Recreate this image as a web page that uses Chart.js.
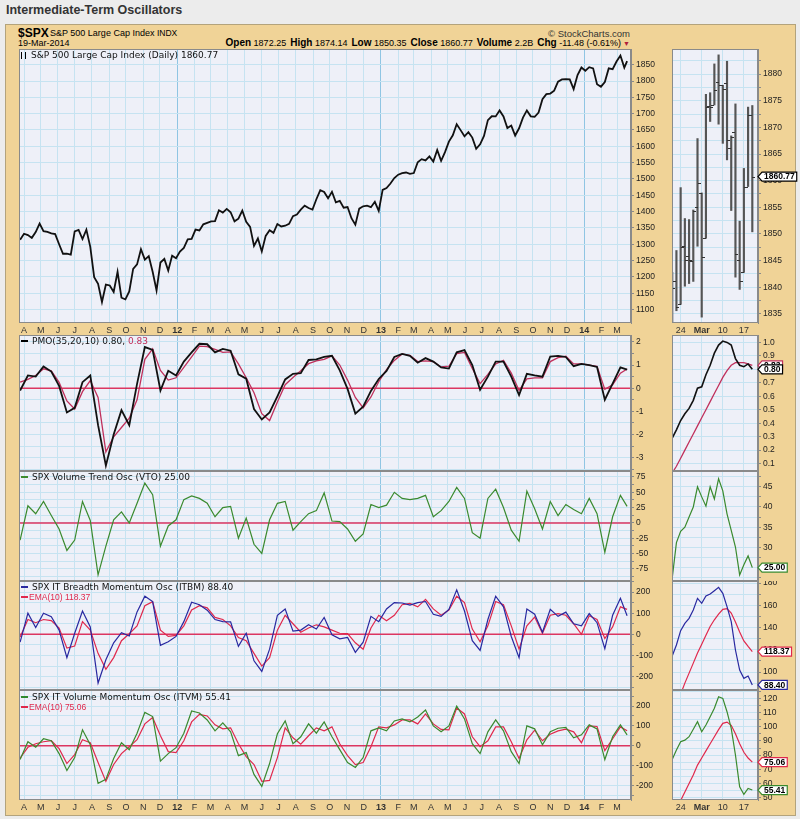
<!DOCTYPE html>
<html>
<head>
<meta charset="utf-8">
<script src="https://cdn.jsdelivr.net/npm/chart.js@4.4.1/dist/chart.umd.min.js"></script>
<style>
  body { margin: 0; width: 800px; height: 819px; background: #ececec; position: relative; overflow: hidden; font-family: "Liberation Sans", Arial, sans-serif; }
  #title { position: absolute; left: 6px; top: 3px; font: bold 12.5px "Liberation Sans", Arial; color: #333; }
  #frame { position: absolute; left: 5px; top: 24px; width: 789px; height: 790px; background: #f0d397; border: 1px solid #b3a37c; }
  .abs { position: absolute; white-space: nowrap; }
  canvas { position: absolute; }
  .lg { font: 9px "DejaVu Sans"; line-height: 11px; color: #111; }
  .lg2 { font: 8.5px "Liberation Sans"; line-height: 10px; }
  .dash { display: inline-block; width: 7px; height: 2px; vertical-align: middle; margin-right: 4px; position: relative; top: -1px; }
  .ico { display: inline-block; width: 3px; height: 7px; border-left: 1px solid #000; border-right: 1px solid #000; margin-right: 5px; vertical-align: middle; }
  .hb { font-weight: bold; font-size: 10px; }
  .hv { font-size: 9px; margin-right: 4px; }
</style>
</head>
<body>
<div id="title">Intermediate-Term Oscillators</div>
<div id="frame"></div>
<div class="abs" style="left:18px;top:26px;font:bold 12px 'Liberation Sans'">$SPX</div>
<div class="abs" style="left:50px;top:28px;font:9px 'Liberation Sans'">S&amp;P 500 Large Cap Index <span style="font-size:8.5px">INDX</span></div>
<div class="abs" style="left:18px;top:38px;font:9px 'Liberation Sans'">19-Mar-2014</div>
<div class="abs" style="right:170px;top:28px;font:9.5px 'Liberation Sans';color:#333">&#169; StockCharts.com</div>
<div class="abs" style="right:170px;top:37px;font:9px 'Liberation Sans'">
  <span class="hb">Open</span> <span class="hv">1872.25</span><span class="hb">High</span> <span class="hv">1874.14</span><span class="hb">Low</span> <span class="hv">1850.35</span><span class="hb">Close</span> <span class="hv">1860.77</span><span class="hb">Volume</span> <span class="hv">2.2B</span><span class="hb">Chg</span> <span class="hv" style="margin-right:2px">-11.48 (-0.61%)</span><span style="color:#b0203a;font-size:7px">&#9660;</span>
</div>
<div id="charts"></div>
<div class="abs lg" style="left:21px;top:50px"><span class="ico"></span>S&amp;P 500 Large Cap Index (Daily) 1860.77</div>
<div class="abs lg" style="left:21px;top:336px"><span class="dash" style="background:#000"></span>PMO(35,20,10) 0.80, <span style="color:#c0305c">0.83</span></div>
<div class="abs lg" style="left:21px;top:472px"><span class="dash" style="background:#3d8b2f"></span>SPX Volume Trend Osc (VTO) 25.00</div>
<div class="abs lg" style="left:21px;top:582px"><span class="dash" style="background:#2828a0"></span>SPX IT Breadth Momentum Osc (ITBM) 88.40</div>
<div class="abs lg2" style="left:21px;top:592px;color:#e0284c"><span class="dash" style="background:#e0284c;margin-right:1px"></span>EMA(10) 118.37</div>
<div class="abs lg" style="left:21px;top:692px"><span class="dash" style="background:#2f8a2f"></span>SPX IT Volume Momentum Osc (ITVM) 55.41</div>
<div class="abs lg2" style="left:21px;top:702px;color:#e0284c"><span class="dash" style="background:#e0284c;margin-right:1px"></span>EMA(10) 75.06</div>
<script>
// months on the main time axis (Apr 2011 .. Mar 2014)
const monthLabels = ['A','M','J','J','A','S','O','N','D','12','F','M','A','M','J','J','A','S','O','N','D','13','F','M','A','M','J','J','A','S','O','N','D','14','F','M'];

// weekly closes, S&P 500, from 25-Mar-2011 to 19-Mar-2014
const priceWeekly = [1313.8,1332.4,1328.2,1319.7,1337.4,1363.6,1340.2,1337.8,1333.3,1331.1,1300.2,1271.0,1271.5,1268.5,1339.7,1343.8,1316.1,1345.0,1292.3,1199.4,1178.8,1123.5,1176.8,1174.0,1154.2,1216.0,1136.4,1131.4,1155.5,1224.6,1238.3,1285.1,1253.2,1263.9,1215.7,1158.7,1244.3,1255.2,1219.7,1265.3,1257.6,
  1277.8,1289.1,1315.4,1316.3,1344.9,1342.6,1361.2,1365.7,1370.0,1370.9,1404.2,1397.1,1408.5,1398.1,1370.3,1378.5,1403.4,1369.1,1353.4,1295.2,1317.8,1278.0,1325.7,1342.8,1335.0,1362.2,1354.7,1356.8,1362.7,1386.0,1391.0,1405.9,1418.2,1411.1,1406.6,1437.9,1465.8,1460.2,1440.7,1460.9,1428.6,1433.2,1411.9,1414.2,1379.9,1359.9,1409.2,1416.2,1418.1,1413.6,1430.2,1402.4,
  1466.5,1472.1,1486.0,1503.0,1513.2,1517.9,1519.8,1515.6,1518.2,1551.2,1560.7,1556.9,1569.2,1553.3,1588.9,1555.3,1582.2,1614.4,1633.7,1667.5,1649.6,1630.7,1643.4,1626.7,1592.4,1606.3,1631.9,1680.2,1692.1,1691.7,1709.7,1691.4,1655.8,1663.5,1633.0,1655.2,1688.0,1709.9,1691.8,1690.5,1703.2,1744.5,1759.8,1761.6,1770.6,1798.2,1804.8,1805.8,1805.1,1775.3,1818.3,1841.4,
  1831.4,1842.4,1838.7,1790.3,1782.6,1797.0,1838.6,1836.3,1859.5,1878.0,1841.1,1860.8];

// oscillators, every two weeks from 25-Mar-2011
const pmo = [-0.10,0.55,0.50,0.94,0.72,0.10,-1.05,-0.85,0.26,0.55,-1.60,-3.35,-2.00,-0.95,-1.60,0.19,1.78,1.66,-0.10,0.75,0.55,1.15,1.55,1.92,1.90,1.55,1.70,1.62,0.60,0.41,-0.90,-1.35,-1.05,-0.35,0.38,0.62,0.65,1.22,1.25,1.35,1.40,0.77,-0.03,-1.10,-0.80,-0.12,0.40,0.75,1.35,1.48,1.40,1.10,1.30,1.15,0.90,0.85,1.55,1.65,1.00,-0.07,0.50,1.15,1.15,0.50,-0.30,0.62,0.55,0.50,1.37,1.40,1.35,0.95,1.05,1.00,0.92,-0.50,0.20,0.90,0.80];
const pmoSignal = [0.26,0.38,0.55,0.84,0.75,0.25,-0.55,-0.90,-0.15,0.33,-0.40,-2.75,-2.10,-1.70,-1.30,-0.50,1.25,1.70,0.77,0.35,0.45,0.90,1.35,1.82,1.80,1.68,1.55,1.57,1.05,0.45,-0.20,-1.10,-1.40,-0.60,0.15,0.46,0.75,1.06,1.18,1.25,1.40,1.00,0.35,-0.40,-0.85,-0.38,0.28,0.80,1.20,1.48,1.42,1.15,1.18,1.15,0.92,0.95,1.50,1.55,0.85,0.20,0.60,1.05,1.20,0.65,-0.10,0.40,0.45,0.45,1.15,1.32,1.38,1.05,1.05,1.00,0.95,-0.05,0.15,0.65,0.83];
const vto = [-28,28,15,35,12,-10,-45,-28,35,4,-85,-38,5,18,0,32,65,46,-38,-5,5,38,44,40,32,10,25,27,-25,8,-35,-50,5,32,35,-12,2,15,20,49,3,2,-10,-30,-18,30,25,29,50,40,38,40,45,10,20,35,58,40,-16,-25,40,55,25,-12,-30,52,23,-10,35,12,30,22,15,40,15,-48,10,45,27];
const itbm = [-37,100,32,100,83,20,-110,5,110,35,-230,-120,-40,8,-8,106,180,155,-52,-35,-10,60,152,140,114,70,60,59,-57,5,-125,-175,-70,90,120,15,20,45,25,80,-2,-21,-15,-85,-37,85,60,120,150,148,138,150,155,95,85,118,210,110,-30,-76,70,180,130,-10,-110,120,95,10,118,85,105,50,40,98,55,-68,90,170,88];
const itbmEma = [-13,70,55,70,65,30,-65,-55,60,20,-90,-165,-110,-30,3,40,135,154,20,-10,-5,40,115,135,125,80,70,40,-15,-30,-90,-150,-110,20,90,50,10,30,45,35,20,5,3,-40,-70,30,90,64,90,140,146,130,165,120,90,115,180,150,25,-35,40,155,140,40,-70,40,82,5,90,98,90,50,0,88,70,-20,35,130,118];
const itvm = [-70,20,-8,35,25,-40,-125,-60,80,5,-190,-170,-65,15,-20,63,168,147,-78,-40,-10,63,175,165,130,75,115,70,-50,-35,-145,-205,-90,60,125,10,45,110,63,120,45,-20,-85,-110,-60,75,90,75,125,135,120,145,180,100,70,100,200,135,10,-40,70,130,75,-30,-90,100,85,5,70,88,92,40,55,105,85,-70,45,105,55];
const itvmEma = [-62,-8,10,20,25,-15,-90,-45,30,15,-85,-180,-95,-40,-5,30,110,142,50,-30,-35,25,120,158,150,105,85,90,10,-55,-95,-180,-175,-60,90,40,8,50,90,75,95,10,-50,-95,-85,-5,95,90,105,130,130,110,160,110,82,80,190,160,45,-5,25,95,95,20,-65,30,78,25,58,75,83,70,15,100,97,-25,35,95,75];

// last 20 sessions, 20-Feb-2014 .. 19-Mar-2014
const miniTickIdx = [2, 7, 12, 17];
const miniTickLabels = ['24', 'Mar', '10', '17'];
const miniOpen = [1829.2,1841.1,1836.8,1847.7,1845.8,1844.9,1855.1,1857.7,1849.2,1874.1,1874.2,1878.5,1877.9,1878.3,1866.2,1869.1,1845.1,1842.8,1858.9,1872.3];
const miniHigh = [1842.8,1846.9,1858.7,1852.9,1852.7,1854.5,1867.9,1857.7,1876.2,1876.5,1881.9,1883.6,1877.9,1882.4,1868.4,1874.4,1852.4,1862.3,1873.8,1874.1];
const miniLow = [1824.6,1835.6,1836.8,1840.2,1840.7,1841.1,1847.7,1834.4,1849.2,1871.1,1874.2,1870.6,1867.0,1863.9,1854.4,1841.9,1839.6,1842.8,1858.9,1850.4];
const miniClose = [1839.8,1836.3,1847.6,1845.1,1845.2,1854.3,1859.5,1845.7,1873.9,1873.8,1877.0,1878.0,1877.2,1867.6,1868.2,1846.3,1841.1,1858.8,1872.3,1860.77];
const miniPmo = [0.29,0.35,0.42,0.47,0.51,0.57,0.66,0.67,0.76,0.83,0.92,0.98,1.01,1.00,0.98,0.88,0.83,0.82,0.84,0.80];
const miniPmoSignal = [0.03,0.08,0.14,0.20,0.26,0.32,0.38,0.44,0.50,0.56,0.62,0.68,0.74,0.79,0.83,0.85,0.85,0.85,0.84,0.83];
const miniVto = [22.4,31.2,34,35,37.5,40,45,42.5,40.2,45,42,47,44,38.3,34.2,30.1,23.2,25.7,27.9,25.00];
const miniItbm = [114.4,124.3,137.2,143.8,148.3,155.8,166.3,161.8,168.4,170.2,173.2,176.2,170.8,158.8,145.3,119.8,101.8,94.3,96.4,88.40];
const miniItbmEma = [60,68,80,90,99,108,117,125,133,141,147,152,156.4,157,153,145,136,128,123,118.37];
const miniItvm = [77.0,83.6,89.5,90.6,93,98.2,103.6,96.5,101.2,107.1,113,121.2,120,110.6,98.9,80.1,57.7,52.3,56.6,55.41];
const miniItvmEma = [40,43,48,54,60,66,73,78,83,88,93,98,102.4,103.3,101,95,88,82,78,75.06];

const BLACK = '#111', SIGNAL = '#c0305c', RED = '#e0284c', GREEN = '#3a8a2e', BLUE = '#2828a0';
const GRID = '#c6e3f1', YEAR_GRID = '#8fc5e3', PLOT_BG = '#eef0f8';

const DAY0 = Date.UTC(2011, 3, 1);
const dayOf = (y, m, d) => (Date.UTC(y, m, d) - DAY0) / 864e5;
const firstDay = dayOf(2011, 2, 25);
const lastDay = dayOf(2014, 2, 19);
const monthTicks = monthLabels.map((_, i) => dayOf(2011, 3 + i, 1));
const isYear = i => (monthLabels[i] || '').length === 2;

const weekly = arr => arr.map((v, i) => ({x: Math.min(firstDay + 7 * i, lastDay), y: v}));
const biweekly = arr => arr.map((v, i) => ({x: Math.min(firstDay + 14 * i, lastDay), y: v}));
const daily = arr => arr.map((v, i) => ({x: i, y: v}));
const last = arr => arr[arr.length - 1];

function line(data, color, width) {
  return {data, borderColor: color, borderWidth: width || 1.3, pointRadius: 0, tension: 0, fill: false};
}

function drawBox(ctx, x, y, text, color) {
  ctx.font = 'bold 8.5px "Liberation Sans"';
  const w = ctx.measureText(text).width + 4;
  ctx.beginPath();
  ctx.moveTo(x, y);
  ctx.lineTo(x + 4, y - 4.5);
  ctx.lineTo(x + 4 + w, y - 4.5);
  ctx.lineTo(x + 4 + w, y + 4.5);
  ctx.lineTo(x + 4, y + 4.5);
  ctx.closePath();
  ctx.fillStyle = '#fff';
  ctx.fill();
  ctx.strokeStyle = color;
  ctx.lineWidth = 1.2;
  ctx.stroke();
  ctx.fillStyle = '#000';
  ctx.textBaseline = 'middle';
  ctx.textAlign = 'left';
  ctx.fillText(text, x + 6, y + 0.5);
}

const panelPlugin = {
  id: 'panel',
  beforeDraw(chart) {
    const {ctx, chartArea: a} = chart;
    ctx.save();
    ctx.fillStyle = PLOT_BG;
    ctx.fillRect(a.left, a.top, a.width, a.height);
    ctx.restore();
  },
  beforeDatasetsDraw(chart, args, opts) {
    if (opts.zero == null) return;
    const {ctx, chartArea: a} = chart;
    const y = chart.scales.y.getPixelForValue(opts.zero);
    ctx.save();
    ctx.strokeStyle = '#dc3560';
    ctx.lineWidth = 1.5;
    ctx.beginPath();
    ctx.moveTo(a.left, y);
    ctx.lineTo(a.right, y);
    ctx.stroke();
    ctx.restore();
  },
  afterDatasetsDraw(chart, args, opts) {
    if (!opts.ohlc) return;
    const {ctx, chartArea: a} = chart;
    const {x, y} = chart.scales;
    ctx.save();
    ctx.beginPath();
    ctx.rect(a.left, a.top, a.width, a.height);
    ctx.clip();
    ctx.strokeStyle = '#333';
    ctx.lineWidth = 1;
    opts.ohlc.open.forEach((o, i) => {
      const px = Math.round(x.getPixelForValue(i));
      const po = Math.round(y.getPixelForValue(o)) + 0.5;
      const pc = Math.round(y.getPixelForValue(opts.ohlc.close[i])) + 0.5;
      ctx.beginPath();
      ctx.moveTo(px - 3, po); ctx.lineTo(px, po);
      ctx.moveTo(px, pc); ctx.lineTo(px + 3, pc);
      ctx.stroke();
    });
    ctx.restore();
  },
  afterDraw(chart, args, opts) {
    const {ctx, chartArea: a} = chart;
    ctx.save();
    ctx.strokeStyle = '#8a8a8a';
    ctx.lineWidth = 1;
    ctx.strokeRect(a.left + 0.5, a.top + 0.5, a.width - 1, a.height - 1);
    (opts.boxes || []).forEach(b => {
      drawBox(ctx, a.right, chart.scales.y.getPixelForValue(b.value), b.value.toFixed(2), b.color);
    });
    ctx.restore();
  }
};

function yTicks(min, max, step) {
  const out = [];
  for (let k = Math.ceil(min / step); k * step <= max + 1e-9; k++) out.push({value: +(k * step).toFixed(6)});
  return out;
}

function yAxis(min, max, step, every, fmt, width) {
  return {
    position: 'right', min, max,
    afterBuildTicks: s => { s.ticks = yTicks(min, max, step); },
    afterFit: s => { s.width = width; s.paddingTop = 0; s.paddingBottom = 0; },
    grid: {color: GRID, tickLength: 3, tickColor: '#8a8a8a'},
    border: {color: '#8a8a8a'},
    ticks: {
      autoSkip: false, padding: 2, color: '#222',
      font: {family: 'Liberation Sans', size: 8.5},
      callback: v => Math.abs(v / every - Math.round(v / every)) < 1e-6 ? fmt(v) : ''
    }
  };
}

function mainX(labelH) {
  return {
    type: 'linear', min: -9, max: 1090, offset: false,
    afterBuildTicks: s => { s.ticks = monthTicks.map(v => ({value: v})); },
    afterFit: s => { s.height = labelH; s.paddingLeft = 0; s.paddingRight = 0; },
    grid: {color: c => isYear(c.index) ? YEAR_GRID : GRID, drawTicks: false, offset: false},
    border: {display: false},
    ticks: {
      display: labelH > 0, autoSkip: false, maxRotation: 0, padding: 2, color: '#333',
      callback: (v, i) => monthLabels[i],
      font: c => ({family: 'Liberation Sans', size: 9, weight: isYear(c.index) ? 'bold' : 'normal'})
    }
  };
}

function miniX(labelH) {
  return {
    type: 'linear', min: -0.05, max: 20.35, offset: false,
    afterBuildTicks: s => { s.ticks = miniTickIdx.map(v => ({value: v})); },
    afterFit: s => { s.height = labelH; s.paddingLeft = 0; s.paddingRight = 0; },
    grid: {color: GRID, drawTicks: false, offset: false},
    border: {display: false},
    ticks: {
      display: labelH > 0, autoSkip: false, maxRotation: 0, padding: 2, color: '#333',
      callback: (v, i) => miniTickLabels[i],
      font: c => ({family: 'Liberation Sans', size: 9, weight: miniTickLabels[c.index] === 'Mar' ? 'bold' : 'normal'})
    }
  };
}

function makeChart(left, top, width, height, x, y, datasets, panel) {
  const cv = document.createElement('canvas');
  cv.width = width;
  cv.height = height;
  cv.style.left = left + 'px';
  cv.style.top = top + 'px';
  document.getElementById('charts').appendChild(cv);
  return new Chart(cv, {
    type: 'line',
    data: {datasets},
    options: {
      responsive: false, animation: false, events: [],
      layout: {padding: 0},
      plugins: {legend: {display: false}, tooltip: {enabled: false}, panel},
      scales: {x, y}
    },
    plugins: [panelPlugin]
  });
}

const int = v => String(Math.round(v));

// main panels
const MW = 612, MAX = 40;
makeChart(19, 49, MW + MAX, 274 + 12, mainX(12), yAxis(1059, 1898, 50, 50, int, MAX),
  [line(weekly(priceWeekly), BLACK, 1.8)], {});
makeChart(19, 335, MW + MAX, 136, mainX(0), yAxis(-3.58, 2.3, 0.5, 1, int, MAX),
  [line(biweekly(pmo), BLACK, 1.8), line(biweekly(pmoSignal), SIGNAL, 1.3)], {zero: 0});
makeChart(19, 471, MW + MAX, 110, mainX(0), yAxis(-95, 84.8, 12.5, 25, int, MAX),
  [line(biweekly(vto), GREEN, 1.2)], {zero: 0});
makeChart(19, 581, MW + MAX, 109, mainX(0), yAxis(-263, 252, 50, 100, int, MAX),
  [line(biweekly(itbm), BLUE, 1.2), line(biweekly(itbmEma), RED, 1.2)], {zero: 0});
makeChart(19, 690, MW + MAX, 110 + 13, mainX(13), yAxis(-274, 281, 50, 100, int, MAX),
  [line(biweekly(itvm), GREEN, 1.2), line(biweekly(itvmEma), RED, 1.2)], {zero: 0});

// last month detail
const SW = 86, SAX = 40;
makeChart(672, 49, SW + SAX, 274 + 12, miniX(12), yAxis(1833.3, 1884.7, 2.5, 5, int, SAX),
  [{type: 'bar', data: miniLow.map((l, i) => ({x: i, y: [l, miniHigh[i]]})), backgroundColor: '#555', barThickness: 1.5, maxBarThickness: 1.5, grouped: false, borderWidth: 0}],
  {ohlc: {open: miniOpen, close: miniClose}, boxes: [{value: last(miniClose), color: '#000'}]});
makeChart(672, 335, SW + SAX, 136, miniX(0), yAxis(0.045, 1.055, 0.1, 0.1, v => v.toFixed(1), SAX),
  [line(daily(miniPmo), BLACK, 1.6), line(daily(miniPmoSignal), SIGNAL, 1.3)],
  {boxes: [{value: last(miniPmoSignal), color: SIGNAL}, {value: last(miniPmo), color: '#000'}]});
makeChart(672, 471, SW + SAX, 110, miniX(0), yAxis(21.7, 48.9, 2.5, 5, int, SAX),
  [line(daily(miniVto), GREEN, 1.2)], {boxes: [{value: last(miniVto), color: GREEN}]});
makeChart(672, 581, SW + SAX, 109, miniX(0), yAxis(83.8, 181.9, 10, 20, int, SAX),
  [line(daily(miniItbm), BLUE, 1.2), line(daily(miniItbmEma), RED, 1.2)],
  {boxes: [{value: last(miniItbmEma), color: RED}, {value: last(miniItbm), color: BLUE}]});
makeChart(672, 690, SW + SAX, 110 + 13, miniX(13), yAxis(48.4, 125.9, 5, 10, int, SAX),
  [line(daily(miniItvm), GREEN, 1.2), line(daily(miniItvmEma), RED, 1.2)],
  {boxes: [{value: last(miniItvmEma), color: RED}, {value: last(miniItvm), color: GREEN}]});
</script>
</body>
</html>
